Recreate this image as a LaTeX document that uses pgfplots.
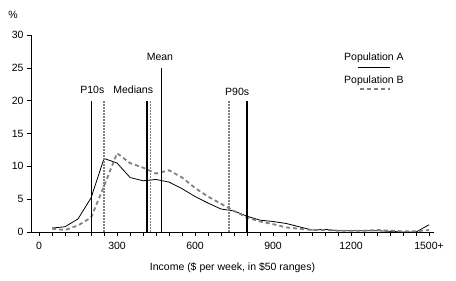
\documentclass[border=0pt]{standalone}
\usepackage{fontspec}
\setmainfont{Liberation Sans}
\usepackage{pgfplots}
\pgfplotsset{compat=1.18}

% income distribution, $50 bands
\pgfplotstableread{
x    a     b
50   0.6   0.5
100  0.8   0.3
150  2.0   1.0
200  5.2   2.2
250  11.2  7.0
300  10.5  12.0
350  8.3   10.5
400  7.8   9.8
450  8.0   8.9
500  7.6   9.4
550  6.6   8.3
600  5.4   6.7
650  4.4   5.4
700  3.5   4.3
750  3.2   3.2
800  2.4   2.2
850  1.8   1.6
900  1.6   1.2
950  1.3   0.7
1000 0.8   0.5
1050 0.3   0.3
1100 0.4   0.3
1150 0.2   0.2
1200 0.2   0.2
1250 0.2   0.2
1300 0.2   0.3
1350 0.1   0.2
1400 0.0   0.1
1450 0.0   0.1
1500 1.1   0.3
}\income

\begin{document}
\begin{tikzpicture}[font=\fontsize{10.5}{12}\selectfont]
\begin{axis}[
  name=ax,
  scale only axis,
  width=403pt, height=197pt,
  xmin=-31, xmax=1519,
  ymin=0, ymax=30,
  axis lines*=left,
  axis line style={-, line width=0.8pt},
  tick align=outside,
  tick style={black, line width=0.6pt},
  major tick length=4pt, minor tick length=4pt,
  xtick={0,300,...,1500},
  xticklabels={0,300,600,900,1200,1500+},
  minor xtick={0,50,...,1500},
  ytick={0,5,...,30},
  xticklabel style={yshift=-3pt},
  /pgf/number format/assume math mode=true,
  xlabel={Income (\$ per week, in \$50 ranges)},
  xlabel style={yshift=-6pt},
  clip=false,
]
\addplot[black, line width=0.8pt] table[x=x,y=a] {\income};
\addplot[gray, line width=1.8pt, dash pattern=on 4pt off 3pt] table[x=x,y=b] {\income};

% percentile markers, A solid and B dotted
\addplot[black, line width=1.1pt] coordinates {(200,0) (200,20)};
\addplot[gray, line width=1.3pt, dash pattern=on 1.6pt off 1.4pt] coordinates {(250,0) (250,20)};
\addplot[black, line width=1.1pt] coordinates {(415,0) (415,20)};
\addplot[gray, line width=1.3pt, dash pattern=on 1.6pt off 1.4pt] coordinates {(428,0) (428,20)};
\addplot[black, line width=1.4pt] coordinates {(470,0) (470,25)};
\addplot[gray, line width=1.3pt, dash pattern=on 1.6pt off 1.4pt] coordinates {(730,0) (730,20)};
\addplot[black, line width=1.4pt] coordinates {(800,0) (800,20)};

\node[anchor=south] at (axis cs:205,20.6) {P10s};
\node[anchor=south] at (axis cs:362,20.6) {Medians};
\node[anchor=south] at (axis cs:465,25.6) {Mean};
\node[anchor=south] at (axis cs:762,20.2) {P90s};
\node at (axis cs:-100,33) {\%};

% legend
\node at (axis cs:1288,26.6) {Population A};
\draw[black, line width=0.9pt] (axis cs:1227,25.0) -- (axis cs:1350,25.0);
\node at (axis cs:1288,23.1) {Population B};
\draw[gray, line width=1.8pt, dash pattern=on 4pt off 3pt] (axis cs:1235,21.8) -- (axis cs:1350,21.8);

\coordinate (o) at (rel axis cs:0,0);
\coordinate (t) at (rel axis cs:1,1);
\end{axis}
\pgfresetboundingbox
\path ([xshift=-31pt,yshift=-49pt]o) rectangle ([xshift=22pt,yshift=35pt]t);
\end{tikzpicture}
\end{document}
